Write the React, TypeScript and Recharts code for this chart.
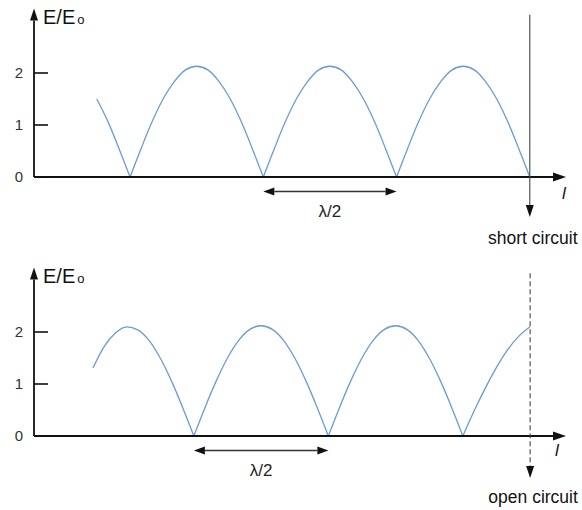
import { LineChart, Line, XAxis, YAxis, ReferenceLine } from "recharts";

// |E|/E0 along the line, one sample every λ/24; the load sits at the last sample
const shortCircuitE = [
  1.5, 1.07, 0.55,
  0, 0.55, 1.07, 1.51, 1.84, 2.06, 2.13, 2.06, 1.84, 1.51, 1.07, 0.55,
  0, 0.55, 1.07, 1.51, 1.84, 2.06, 2.13, 2.06, 1.84, 1.51, 1.07, 0.55,
  0, 0.55, 1.07, 1.51, 1.84, 2.06, 2.13, 2.06, 1.84, 1.51, 1.07, 0.55,
  0,
];

const openCircuitE = [
  1.31, 1.72, 1.98, 2.1, 2.04, 1.84, 1.5, 1.06, 0.55,
  0, 0.55, 1.06, 1.5, 1.84, 2.05, 2.12, 2.05, 1.84, 1.5, 1.06, 0.55,
  0, 0.55, 1.06, 1.5, 1.84, 2.05, 2.12, 2.05, 1.84, 1.5, 1.06, 0.55,
  0, 0.48, 0.92, 1.32, 1.66, 1.92, 2.1,
];

const yTicks = [0, 1, 2];
const yAxisTop = 3.24;

const FONT = "'Liberation Sans', Arial, sans-serif";
const INK = "#111";
const WAVE = "#6b9bd6";

type Row = { x: number; a: number | null; b: number | null };

// alternate arches go to two series so every null stays a sharp cusp
function toRows(values: number[]): Row[] {
  let arch = 0;
  return values.map((e, i) => {
    const row: Row = { x: i, a: null, b: null };
    row[arch % 2 === 0 ? "a" : "b"] = e;
    if (e === 0 && i > 0) {
      arch++;
      row[arch % 2 === 0 ? "a" : "b"] = e;
    }
    return row;
  });
}

function head(tx: number, ty: number, fx: number, fy: number, len = 12, half = 4.5) {
  const n = Math.hypot(tx - fx, ty - fy) || 1;
  const ux = (tx - fx) / n;
  const uy = (ty - fy) / n;
  const bx = tx - ux * len;
  const by = ty - uy * len;
  return {
    points: `${tx},${ty} ${bx - uy * half},${by + ux * half} ${bx + uy * half},${by - ux * half}`,
    bx,
    by,
  };
}

type ArrowOpts = {
  width?: number;
  color?: string;
  dash?: string;
  both?: boolean;
  len?: number;
  half?: number;
  label?: (x1: number, y1: number, x2: number, y2: number) => React.ReactNode;
};

const arrow = (o: ArrowOpts) => (p: any) => {
  const { x1, y1, x2, y2 } = p;
  const { width = 2, color = INK, dash, both, len = 12, half = 4.5, label } = o;
  const end = head(x2, y2, x1, y1, len, half);
  const start = both ? head(x1, y1, x2, y2, len, half) : null;
  return (
    <g>
      <line
        x1={start ? start.bx : x1}
        y1={start ? start.by : y1}
        x2={end.bx}
        y2={end.by}
        stroke={color}
        strokeWidth={width}
        strokeDasharray={dash}
      />
      <polygon points={end.points} fill={INK} />
      {start && <polygon points={start.points} fill={INK} />}
      {label && label(x1, y1, x2, y2)}
    </g>
  );
};

const YTick = (p: any) => (
  <g>
    <line x1={p.x} y1={p.y} x2={p.x + 14} y2={p.y} stroke={INK} strokeWidth={1.6} />
    <text x={p.x - 11} y={p.y} dy={5} textAnchor="end" fontSize={15} fill="#333" fontFamily={FONT}>
      {p.payload.value}
    </text>
  </g>
);

type PanelProps = {
  values: number[];
  height: number;
  marginTop: number;
  xDomain: [number, number];
  yDomain: [number, number];
  xTip: number;
  lOffset: [number, number];
  span: [number, number];
  load: { x: number; top: number; tip: number; label: string; dashed?: boolean; gap: number };
};

function Panel({ values, height, marginTop, xDomain, yDomain, xTip, lOffset, span, load }: PanelProps) {
  const rows = toRows(values);
  const x0 = xDomain[0];
  return (
    <LineChart width={582} height={height} data={rows} margin={{ top: marginTop, right: 15, bottom: 0, left: 0 }}>
      <XAxis dataKey="x" type="number" domain={xDomain} allowDataOverflow hide />
      <YAxis
        type="number"
        domain={yDomain}
        allowDataOverflow
        ticks={yTicks}
        width={34}
        axisLine={false}
        tickLine={false}
        tickSize={0}
        tickMargin={0}
        tick={YTick}
      />
      <Line dataKey="a" type="monotone" stroke={WAVE} strokeWidth={1.3} dot={false} activeDot={false} isAnimationActive={false} />
      <Line dataKey="b" type="monotone" stroke={WAVE} strokeWidth={1.3} dot={false} activeDot={false} isAnimationActive={false} />
      {/* E/E0 axis */}
      <ReferenceLine
        segment={[{ x: x0, y: 0 }, { x: x0, y: yAxisTop }]}
        ifOverflow="visible"
        shape={arrow({
          width: 1.8,
          len: 12,
          half: 4,
          label: (_a, _b, x2, y2) => (
            <text x={x2 + 9} y={y2 + 15} fontSize={20} fill={INK} fontFamily={FONT}>
              E/E<tspan fontSize={13} dx={2}>o</tspan>
            </text>
          ),
        })}
      />
      {/* position along the line */}
      <ReferenceLine
        segment={[{ x: x0, y: 0 }, { x: xTip, y: 0 }]}
        ifOverflow="visible"
        shape={arrow({
          width: 2,
          len: 13,
          half: 4.5,
          label: (_a, _b, x2, y2) => (
            <text x={x2 + lOffset[0]} y={y2 + lOffset[1]} fontSize={17} fontStyle="italic" fill={INK} fontFamily={FONT}>
              l
            </text>
          ),
        })}
      />
      {/* λ/2 spacing between nulls */}
      <ReferenceLine
        segment={[{ x: span[0], y: -0.28 }, { x: span[1], y: -0.28 }]}
        ifOverflow="visible"
        shape={arrow({
          width: 1.6,
          color: "#333",
          both: true,
          len: 11,
          half: 4,
          label: (x1, y1, x2) => (
            <text x={(x1 + x2) / 2} y={y1 + 25} textAnchor="middle" fontSize={17} fill="#222" fontFamily={FONT}>
              λ/2
            </text>
          ),
        })}
      />
      {/* load end */}
      <ReferenceLine
        segment={[{ x: load.x, y: load.top }, { x: load.x, y: load.tip }]}
        ifOverflow="visible"
        shape={arrow({
          width: 1.1,
          color: "#444",
          dash: load.dashed ? "5 3" : undefined,
          len: 12,
          half: 4,
          label: (_a, _b, x2, y2) => (
            <text x={x2 + 3} y={y2 + load.gap} textAnchor="middle" fontSize={17.5} fill={INK} fontFamily={FONT}>
              {load.label}
            </text>
          ),
        })}
      />
    </LineChart>
  );
}

export default function App() {
  return (
    <div style={{ position: "absolute", left: 0, top: 0, width: 582, height: 510, background: "#fff" }}>
      <Panel
        values={shortCircuitE}
        height={250}
        marginTop={6}
        xDomain={[-5.65, 42.35]}
        yDomain={[-73 / 52, 171 / 52]}
        xTip={42.26}
        lOffset={[-4, 22]}
        span={[15, 27]}
        load={{ x: 39, top: 3.12, tip: -0.77, label: "short circuit", gap: 27 }}
      />
      <Panel
        values={openCircuitE}
        height={260}
        marginTop={10}
        xDomain={[-5.26, 42.29]}
        yDomain={[-74 / 52, 176 / 52]}
        xTip={42.2}
        lOffset={[-11, 20]}
        span={[9, 21]}
        load={{ x: 39, top: 3.13, tip: -0.81, label: "open circuit", dashed: true, gap: 25 }}
      />
    </div>
  );
}
